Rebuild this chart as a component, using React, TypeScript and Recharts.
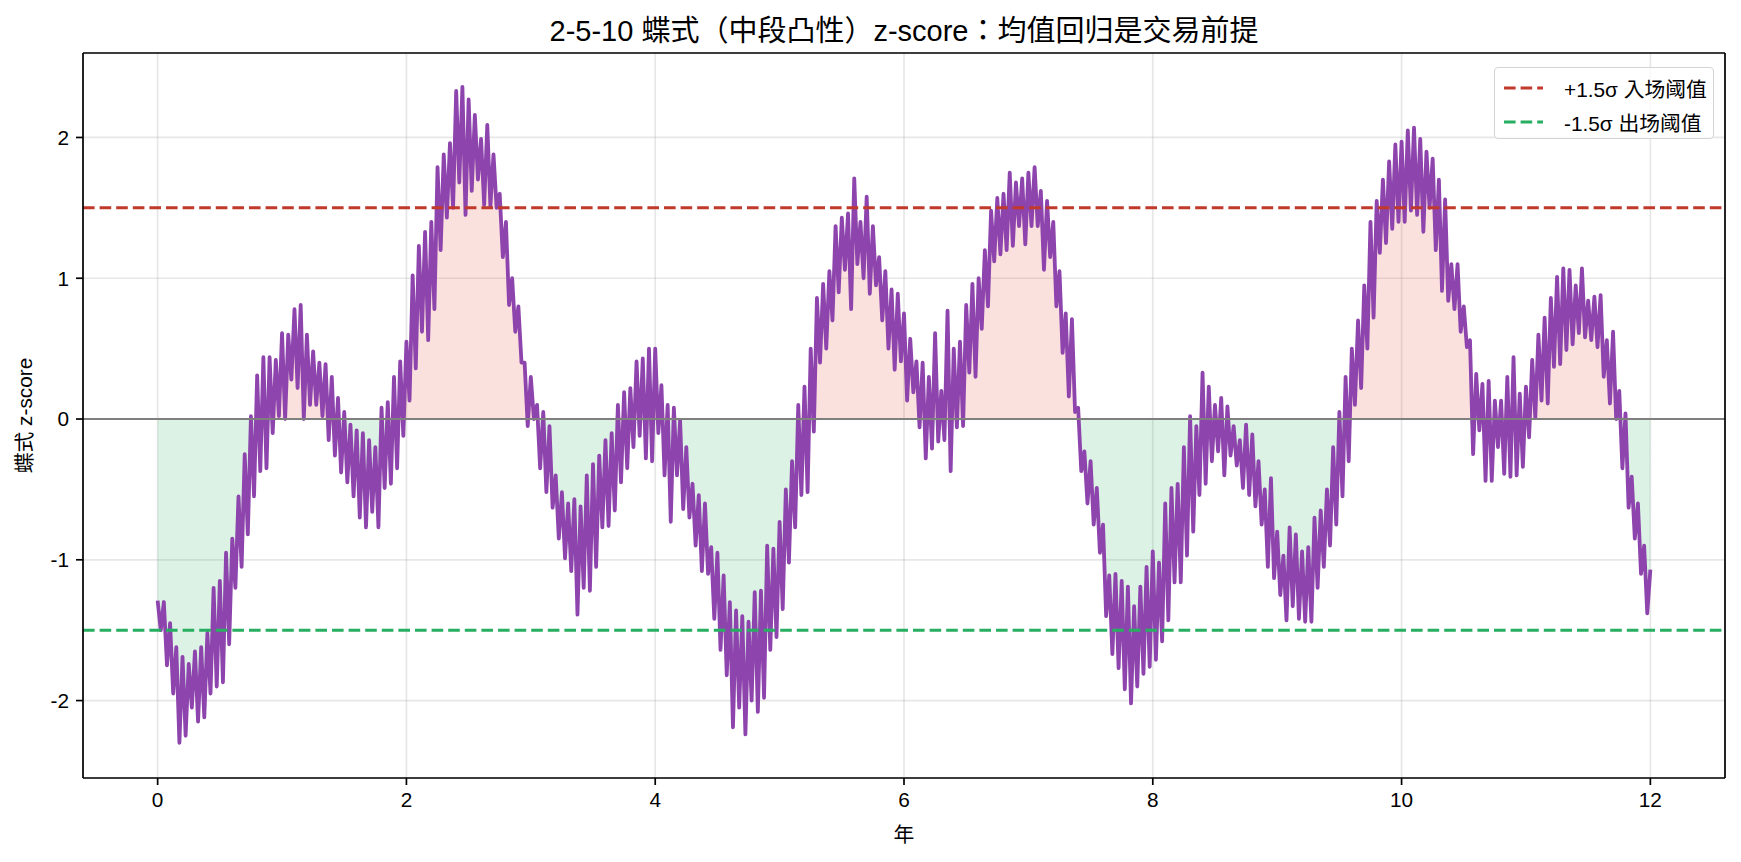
import { ComposedChart, Line, Area, XAxis, YAxis, CartesianGrid, ReferenceLine, Legend } from 'recharts';

const ENTRY = 1.5;
const EXIT = -1.5;
const X_DOMAIN = [-0.6, 12.6];
const Y_DOMAIN = [-2.55, 2.6];
const X_TICKS = [0, 2, 4, 6, 8, 10, 12];
const Y_TICKS = [-2, -1, 0, 1, 2];
const STEP = 0.05; // years between readings

// upper edge of the noisy band, read every 0.05 year (0 .. 12)
const zHigh = [
  -1.29, -1.30, -1.45, -1.62, -1.69, -1.74, -1.65, -1.62, -1.52, -1.20, -1.15, -0.95, -0.85, -0.55, -0.25, 0.02, 0.31, 0.44, 0.44, 0.42,
  0.61, 0.60, 0.78, 0.81, 0.60, 0.48, 0.40, 0.39, 0.30, 0.15, 0.05, -0.04, -0.08, -0.10, -0.15, -0.20, 0.08, 0.12, 0.30, 0.41,
  0.55, 1.02, 1.23, 1.33, 1.40, 1.79, 1.88, 1.96, 2.33, 2.36, 2.27, 2.16, 1.99, 2.09, 1.88, 1.60, 1.40, 1.00, 0.80, 0.40,
  0.30, 0.10, 0.05, -0.05, -0.40, -0.52, -0.60, -0.57, -0.62, -0.40, -0.32, -0.26, -0.15, -0.10, 0.10, 0.19, 0.22, 0.41, 0.43, 0.50,
  0.50, 0.24, 0.10, 0.08, -0.01, -0.20, -0.46, -0.54, -0.60, -0.91, -0.95, -1.11, -1.30, -1.36, -1.40, -1.44, -1.23, -1.22, -0.90, -0.92,
  -0.73, -0.50, -0.30, 0.10, 0.23, 0.50, 0.86, 0.96, 1.05, 1.37, 1.43, 1.46, 1.71, 1.40, 1.58, 1.37, 1.15, 1.05, 0.92, 0.89,
  0.75, 0.57, 0.41, 0.40, 0.30, 0.61, 0.20, 0.77, 0.50, 0.55, 0.81, 0.96, 1.00, 1.20, 1.48, 1.57, 1.60, 1.75, 1.68, 1.71,
  1.75, 1.79, 1.62, 1.55, 1.40, 1.05, 0.75, 0.71, 0.08, -0.23, -0.30, -0.49, -0.75, -1.11, -1.10, -1.15, -1.19, -1.33, -1.19, -1.05,
  -0.94, -1.02, -0.60, -0.49, -0.46, -0.20, 0.02, -0.05, 0.33, 0.23, 0.10, 0.15, 0.09, -0.05, -0.15, -0.04, -0.11, -0.30, -0.50, -0.42,
  -0.80, -0.97, -0.77, -0.82, -0.94, -0.91, -0.70, -0.65, -0.50, -0.20, 0.05, 0.30, 0.50, 0.70, 0.95, 1.40, 1.55, 1.70, 1.83, 1.95,
  1.97, 2.05, 2.07, 1.99, 1.90, 1.85, 1.70, 1.56, 1.10, 1.10, 0.80, 0.56, 0.32, 0.25, 0.27, 0.13, 0.13, 0.30, 0.44, 0.18,
  0.23, 0.42, 0.60, 0.72, 0.86, 1.01, 1.07, 1.06, 0.95, 1.07, 0.84, 0.87, 0.88, 0.56, 0.62, 0.20, 0.04, -0.41, -0.60, -0.90,
  -1.07,
];

// lower edge of the band, read half a step later
const zLow = [
  -1.50, -1.75, -1.95, -2.30, -2.25, -2.05, -2.15, -2.12, -1.95, -1.90, -1.87, -1.60, -1.20, -1.05, -0.82, -0.55, -0.37, -0.35, -0.10, 0.02,
  0.00, 0.28, 0.22, 0.00, 0.10, 0.10, 0.02, -0.15, -0.26, -0.38, -0.45, -0.55, -0.70, -0.77, -0.66, -0.77, -0.49, -0.46, -0.35, -0.12,
  0.13, 0.36, 0.62, 0.56, 0.78, 1.20, 1.43, 1.50, 1.68, 1.45, 1.62, 1.70, 1.52, 1.51, 1.50, 1.15, 0.81, 0.62, 0.40, -0.05,
  0.00, -0.35, -0.52, -0.63, -0.85, -0.99, -1.08, -1.39, -1.20, -1.22, -1.05, -0.77, -0.76, -0.65, -0.45, -0.35, -0.20, -0.12, -0.28, -0.30,
  -0.10, -0.40, -0.73, -0.40, -0.64, -0.70, -0.90, -1.08, -1.10, -1.42, -1.64, -1.82, -2.19, -2.05, -2.24, -2.00, -2.08, -1.98, -1.64, -1.55,
  -1.35, -1.02, -0.77, -0.54, -0.52, -0.09, 0.40, 0.50, 0.70, 0.90, 1.06, 0.78, 1.10, 1.00, 0.89, 0.95, 0.70, 0.50, 0.35, 0.41,
  0.13, 0.19, -0.06, -0.28, -0.21, -0.16, -0.15, -0.37, -0.06, -0.05, 0.33, 0.30, 0.64, 0.80, 1.12, 1.17, 1.20, 1.23, 1.37, 1.24,
  1.37, 1.37, 1.06, 1.15, 0.80, 0.47, 0.16, 0.05, -0.37, -0.60, -0.75, -0.95, -1.40, -1.67, -1.77, -1.92, -2.02, -1.90, -1.81, -1.76,
  -1.71, -1.58, -1.43, -1.16, -1.16, -0.97, -0.80, -0.54, -0.46, -0.30, -0.23, -0.40, -0.26, -0.33, -0.49, -0.54, -0.62, -0.75, -1.05, -1.13,
  -1.25, -1.43, -1.33, -1.42, -1.44, -1.44, -1.20, -1.05, -0.90, -0.75, -0.55, -0.30, 0.10, 0.22, 0.50, 0.72, 1.18, 1.25, 1.35, 1.40,
  1.40, 1.48, 1.45, 1.33, 1.50, 1.20, 0.91, 0.84, 0.78, 0.62, 0.51, -0.25, -0.08, -0.44, -0.44, -0.20, -0.39, -0.41, -0.40, -0.34,
  -0.13, 0.01, 0.13, 0.11, 0.37, 0.39, 0.49, 0.53, 0.61, 0.58, 0.56, 0.51, 0.30, 0.11, 0.00, -0.35, -0.63, -0.85, -1.10, -1.38,
];

const THRESHOLDS = [
  { label: '+1.5σ 入场阈值', color: '#c0392b' },
  { label: '-1.5σ 出场阈值', color: '#27ae60' },
];

const FONT = "'Liberation Sans', Arial, 'Noto Sans CJK TC', 'Noto Sans CJK SC', sans-serif";

// interleave the two band edges into one series
const data = zHigh
  .flatMap((hi, i) => {
    const t = i * STEP;
    const rows = [{ t, z: hi }];
    if (i < zLow.length) rows.push({ t: t + STEP / 2, z: zLow[i] });
    return rows;
  })
  .map((d) => ({ ...d, pos: Math.max(d.z, 0), neg: Math.min(d.z, 0) }));

const YTitle = ({ viewBox }: any) => {
  const cx = viewBox.x + 24;
  const cy = viewBox.y + viewBox.height / 2;
  return (
    <text
      x={cx}
      y={cy}
      transform={`rotate(-90, ${cx}, ${cy})`}
      textAnchor="middle"
      dominantBaseline="central"
      fontSize={20.8}
      fill="#000"
    >
      蝶式 z-score
    </text>
  );
};

const ThresholdLegend = () => (
  <div
    style={{
      width: 220,
      height: 72,
      border: '1px solid #d4d4d4',
      borderRadius: 4,
      background: 'rgba(255,255,255,0.8)',
      boxSizing: 'border-box',
      paddingTop: 3,
    }}
  >
    {THRESHOLDS.map((item) => (
      <div key={item.label} style={{ display: 'flex', alignItems: 'center', height: 34 }}>
        <svg width={60} height={10} style={{ marginLeft: 9 }}>
          <line x1={0} y1={5} x2={39} y2={5} stroke={item.color} strokeWidth={3} strokeDasharray="11.6 5" />
        </svg>
        <span style={{ fontSize: 20.8, color: '#000', whiteSpace: 'nowrap' }}>{item.label}</span>
      </div>
    ))}
  </div>
);

const frame = { stroke: '#000', strokeWidth: 1.7 };

export default function App() {
  return (
    <div style={{ position: 'relative', width: 1741, height: 862, fontFamily: FONT, background: '#fff' }}>
      <style>{'body{margin:0}'}</style>
      <div
        style={{
          position: 'absolute',
          left: 83,
          width: 1642,
          top: 16,
          textAlign: 'center',
          fontSize: 29,
          lineHeight: '30px',
          color: '#000',
        }}
      >
        2-5-10 蝶式（中段凸性）z-score：均值回归是交易前提
      </div>
      <ComposedChart width={1741} height={862} data={data} margin={{ top: 53, right: 16, bottom: 0, left: 0 }}>
        <CartesianGrid stroke="#b0b0b0" strokeOpacity={0.3} strokeWidth={1.7} />
        <XAxis
          dataKey="t"
          type="number"
          domain={X_DOMAIN}
          ticks={X_TICKS}
          allowDataOverflow
          height={84}
          tickSize={7}
          tickMargin={7}
          axisLine={frame}
          tickLine={frame}
          tick={{ fill: '#000', fontSize: 20.8 }}
          label={{ value: '年', position: 'insideBottom', offset: 20, fill: '#000', fontSize: 20.8 }}
        />
        <YAxis
          type="number"
          domain={Y_DOMAIN}
          ticks={Y_TICKS}
          allowDataOverflow
          width={83}
          tickSize={7}
          tickMargin={7}
          axisLine={frame}
          tickLine={frame}
          tick={{ fill: '#000', fontSize: 20.8 }}
          label={<YTitle />}
        />
        <Area dataKey="pos" type="linear" baseValue={0} stroke="none" fill="#e74c3c" fillOpacity={0.17} isAnimationActive={false} />
        <Area dataKey="neg" type="linear" baseValue={0} stroke="none" fill="#27ae60" fillOpacity={0.16} isAnimationActive={false} />
        <Line dataKey="z" type="linear" stroke="#8e44ad" strokeWidth={3.8} dot={false} strokeLinejoin="round" isAnimationActive={false} />
        <ReferenceLine y={0} stroke="#7f7f7f" strokeWidth={2} />
        <ReferenceLine y={ENTRY} stroke={THRESHOLDS[0].color} strokeWidth={3} strokeDasharray="11.6 5" />
        <ReferenceLine y={EXIT} stroke={THRESHOLDS[1].color} strokeWidth={3} strokeDasharray="11.6 5" />
        {/* top and right spines */}
        <ReferenceLine y={Y_DOMAIN[1]} {...frame} />
        <ReferenceLine x={X_DOMAIN[1]} {...frame} />
        <Legend
          layout="vertical"
          verticalAlign="middle"
          align="center"
          content={<ThresholdLegend />}
          wrapperStyle={{ top: 67, left: 1494, width: 220 }}
        />
      </ComposedChart>
    </div>
  );
}
